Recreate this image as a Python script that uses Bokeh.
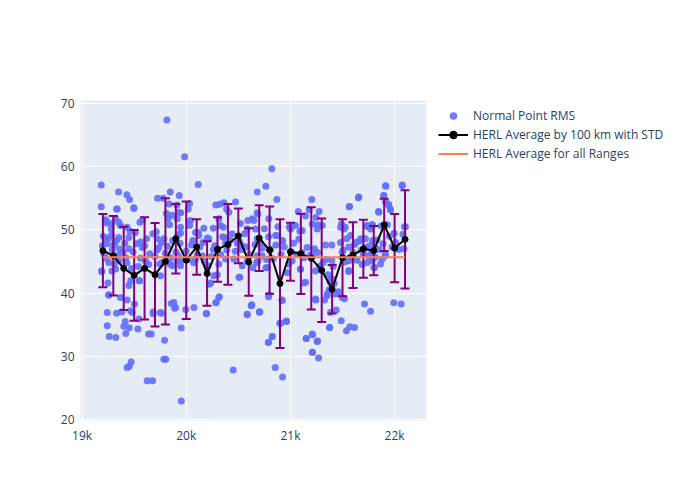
from bokeh.plotting import figure
from bokeh.models import Legend, LegendItem, FixedTicker, ColumnDataSource
from bokeh.embed import file_html
from bokeh.resources import INLINE

# ---- data ----
pts_x = [19814, 19984, 19184, 20115, 19184, 19350, 19430, 19456, 19497, 19725, 19779, 19846, 19933,
         19331, 19837, 19910, 19948, 20019, 20032, 20115, 20284, 20320, 20361, 20387, 20473, 20681,
         20591, 20649, 20681, 19223, 19235, 19286, 19353, 19369, 19433, 19555, 19581, 19712, 19785,
         19945, 20032, 20089, 20202, 20259, 20329, 20355, 20585,
         19190, 19248, 19255, 19242, 19331, 19382, 19242, 19261, 19324, 19415, 19401, 19453, 19420,
         19466, 19433, 19433, 19453, 19472, 19625, 19677, 19536, 19504, 19549, 19638, 19664, 19683,
         19683, 19760, 19753, 19792, 19785, 19804, 19856, 19888, 19952, 19952, 19996, 20073, 20195,
         20284, 20317, 20221, 20298, 20514, 20585, 20624, 20701, 20451, 19843, 19286,
         20630, 20706, 20790, 20764, 20675, 20918, 20898, 20963, 20790, 20825, 20854, 20924, 21097,
         21129, 21152, 21212, 21257, 21212, 21270, 21241, 21244, 21327, 21353, 21372, 21385, 21376,
         21397, 21488, 21519, 21538, 21570, 21615, 21558, 21711, 21769, 21807, 21992, 22063,
         20822, 20764, 20869, 20687, 21205, 21145, 21075, 21180, 21276, 21244, 21008, 20989, 21091,
         21262, 21564, 21653, 21845, 21916, 21896, 21942, 21961, 22073, 22095, 21526, 21481, 21737,
         21788, 21397, 20925, 20873,
         19232, 19322, 19338, 19497, 19225, 19257, 19283, 19315, 19353, 19360, 19449, 19449, 19561,
         19578, 19722, 19737, 19840, 19866, 19914, 19187, 19257, 19353, 19322, 19449, 19466, 19552,
         19609, 19769, 19866, 19914, 19257, 19369, 19482, 19753, 19545, 19881, 19897,
         19929, 19945, 20041, 20063, 20121, 20169, 20217, 20274, 20313, 20361, 20377, 20409, 20537,
         20633, 20665, 20681, 19923, 19945, 20089, 20154, 20233, 20265, 20313, 20377, 20457, 20505,
         20537, 20681, 20585, 20192, 20287, 20313, 20585, 20627,
         20793, 20857, 20921, 21001, 21049, 21113, 21209, 21257, 21305, 21337, 20729, 20777, 21017,
         21097, 21145, 21241, 21353, 21433, 20703, 20793, 20921, 20905, 20960, 20787, 20825, 21152,
         21209, 21260, 21209, 21376,
         21913, 22073, 21656, 21567, 21896, 21913, 21945, 21961, 21849, 21491, 21513, 21481, 21577,
         21737, 21785, 21769, 21996, 22104, 21625, 21673, 21721, 21753, 21785, 21817, 21737, 21561,
         21497, 21561, 21801, 21865, 21881, 21913, 21497,
         19195, 19210, 19230, 19205, 19240, 19290, 19305, 19330, 19345, 19280, 19310, 19395, 19410,
         19430, 19460, 19420, 19475, 19490, 19520, 19540, 19510, 19560, 19600, 19620, 19640, 19650,
         19680, 19700, 19720, 19745, 19760, 19800, 19820, 19850, 19870, 19810, 19825, 19900, 19940,
         19960, 19920, 20000, 20020, 20050, 20070, 20105, 20130, 20160, 20175, 20210, 20240, 20260,
         20300, 20330, 20350, 20390, 20400, 20420, 20440, 20470, 20490, 20510, 20530, 20560, 20580,
         20520, 20610, 20640, 20660, 20690, 20710, 20730, 20750, 20770, 20790, 20810, 20835, 20860,
         20880, 20910, 20940, 20970, 20985, 21010, 21030, 21060, 21080, 21110, 21130, 21160, 21190,
         21210, 21230, 21260, 21280, 21310, 21340, 21360, 21380, 21410, 21420, 21440, 21460, 21395,
         21505, 21520, 21540, 21560, 21580, 21600, 21615, 21640, 21660, 21680, 21690, 21700, 21720,
         21760, 21780, 21790, 21810, 21830, 21850, 21870, 21890, 21910, 21930, 21950, 21975, 22010,
         22040, 22080, 22090]
pts_y = [67.4, 61.6, 57.1, 57.2, 53.65, 56.0, 55.55, 54.8, 53.5, 55.0, 55.0, 56.0, 55.45,
         53.3, 54.1, 53.95, 52.7, 53.3, 54.2, 49.6, 53.95, 54.05, 54.3, 53.3, 54.4, 56.0,
         51.5, 51.5, 52.7, 51.6, 51.1, 51.0, 51.2, 50.7, 50.4, 51.2, 51.6, 49.7, 48.6,
         49.5, 50.7, 49.6, 48.7, 50.25, 50.7, 50.4, 50.2,
         43.4, 41.6, 39.7, 36.9, 36.8, 37.0, 34.8, 33.1, 32.95, 35.5, 34.75, 34.5, 33.6,
         37.2, 38.9, 28.2, 28.4, 29.05, 26.1, 26.1, 34.3, 38.25, 41.95, 33.5, 33.5, 37.0,
         36.7, 36.8, 42.75, 32.5, 29.5, 29.5, 38.35, 37.6, 34.45, 22.9, 37.4, 37.7, 36.7,
         38.45, 39.4, 41.4, 42.9, 42.5, 36.55, 38.0, 37.0, 27.8, 44.6, 43.5,
         38.1, 37.0, 39.4, 44.0, 44.8, 38.9, 35.2, 35.5, 32.2, 33.1, 28.2, 26.7, 43.75,
         41.6, 32.8, 33.4, 32.3, 30.6, 29.7, 43.5, 38.9, 38.9, 39.85, 40.5, 36.9, 34.55,
         45.2, 35.6, 39.1, 34.0, 34.65, 34.55, 43.4, 38.25, 37.1, 44.05, 38.45, 38.25,
         59.7, 56.9, 54.8, 52.5, 54.8, 52.2, 52.9, 53.2, 52.9, 51.95, 50.4, 50.45, 49.8,
         50.8, 53.65, 55.1, 52.9, 56.9, 55.45, 54.05, 53.2, 57.0, 50.5, 50.4, 50.4, 50.55,
         50.7, 47.6, 48.25, 49.1,
         51.5, 51.75, 53.3, 53.4, 48.6, 48.7, 49.2, 48.0, 48.8, 47.0, 47.0, 48.8, 48.1,
         47.2, 48.6, 47.2, 50.8, 52.3, 51.75, 43.5, 44.85, 45.1, 43.8, 41.2, 41.95, 41.95,
         45.1, 44.85, 44.3, 45.1, 39.7, 39.3, 36.9, 36.9, 35.9, 38.5, 37.7,
         52.8, 50.4, 51.5, 48.3, 49.1, 50.25, 48.6, 47.5, 51.75, 48.8, 47.8, 52.8, 47.5,
         51.75, 50.15, 48.6, 45.9, 44.3, 45.4, 45.9, 41.6, 42.75, 44.6, 45.4, 45.4, 42.5,
         44.3, 45.9, 45.1, 36.75, 38.5, 39.3, 36.65, 38.1,
         51.75, 49.1, 48.3, 50.15, 50.7, 49.9, 50.95, 50.15, 50.7, 47.6, 45.9, 44.05, 45.1,
         43.8, 41.7, 39.05, 39.6, 39.85, 37.0, 39.7, 38.8, 35.2, 35.55, 32.15, 33.1, 32.8,
         33.5, 32.4, 30.6, 34.55,
         57.0, 57.1, 55.2, 53.7, 55.45, 54.4, 53.85, 53.2, 52.8, 50.95, 50.15, 48.0, 49.1,
         50.7, 50.85, 50.15, 49.45, 50.5, 48.0, 48.6, 47.2, 45.9, 45.1, 45.65, 44.85, 45.1,
         46.45, 43.55, 44.05, 44.6, 45.4, 45.9, 39.3,
         47.5, 46.2, 45.5, 49.0, 47.8, 46.9, 47.6, 48.3, 46.0, 50.2, 44.6, 46.4, 47.9,
         44.8, 49.8, 45.6, 43.9, 46.5, 47.8, 44.2, 49.6, 45.5, 47.5, 48.6, 44.5, 46.2,
         49.4, 45.8, 46.8, 44.6, 48.0, 46.3, 47.4, 45.6, 48.3, 52.6, 51.8, 46.5, 47.9,
         45.2, 49.2, 46.6, 45.3, 47.6, 44.8, 46.0, 47.3, 48.0, 45.0, 44.3, 45.8, 46.9,
         47.0, 46.1, 48.9, 46.8, 47.6, 48.4, 49.4, 46.6, 47.9, 48.2, 46.9, 49.4, 47.3,
         51.0, 46.1, 44.0, 47.7, 45.1, 48.0, 47.1, 50.2, 45.3, 48.9, 46.9, 45.4, 47.6,
         50.5, 46.1, 47.3, 43.2, 44.6, 46.5, 47.9, 46.1, 48.5, 46.4, 45.6, 47.2, 46.0,
         45.9, 47.0, 46.4, 44.2, 44.7, 45.3, 42.9, 41.8, 44.2, 41.5, 37.3, 40.2, 42.3,
         46.8, 44.9, 48.6, 47.3, 45.7, 46.4, 47.7, 45.2, 48.2, 46.8, 44.5, 46.2, 48.6,
         47.5, 46.4, 48.3, 47.2, 48.4, 46.9, 50.6, 47.8, 46.2, 50.8, 49.0, 47.3, 48.0,
         46.9, 49.3, 47.0]

bin_x = [19200, 19300, 19400, 19500, 19600, 19700, 19800, 19900, 20000, 20100,
         20200, 20300, 20400, 20500, 20600, 20700, 20800, 20900, 21000, 21100,
         21200, 21300, 21400, 21500, 21600, 21700, 21800, 21900, 22000, 22100]
bin_mean = [46.7, 45.9, 43.9, 42.8, 43.9, 42.9, 45.0, 48.6, 45.2, 47.3,
            43.1, 46.9, 47.7, 49.05, 44.9, 48.7, 46.8, 41.5, 46.55, 46.2,
            45.5, 43.6, 40.6, 45.6, 46.0, 47.0, 46.7, 50.8, 47.1, 48.5]
bin_std = [5.8, 6.3, 6.6, 7.2, 8.1, 8.2, 10.0, 5.5, 9.3, 4.4,
           5.1, 5.1, 6.4, 4.35, 5.35, 5.2, 6.9, 10.2, 4.6, 6.35,
           8.1, 8.2, 3.85, 6.1, 5.2, 4.6, 3.9, 4.15, 5.4, 7.8]
overall_mean = 45.65

x_ticks = [19000, 20000, 21000, 22000]
x_tick_labels = ["19k", "20k", "21k", "22k"]
y_ticks = [20, 30, 40, 50, 60, 70]

# ---- figure ----
FONT = "Open Sans"
TXT = "#2a3f5f"

p = figure(frame_width=346, frame_height=320, x_range=(18985, 22306), y_range=(19.8, 70.5),
           output_backend="svg", toolbar_location=None,
           min_border_left=80, min_border_top=100, min_border_bottom=80, min_border_right=10,
           background_fill_color="#E5ECF6", border_fill_color="white", outline_line_color=None)

for ax in (p.xaxis[0], p.yaxis[0]):
    ax.axis_line_color = None
    ax.major_tick_line_color = None
    ax.minor_tick_line_color = None
    ax.major_tick_in = 0
    ax.major_tick_out = 0
    ax.major_label_text_font = FONT
    ax.major_label_text_font_size = "12px"
    ax.major_label_text_color = TXT
p.xaxis[0].ticker = FixedTicker(ticks=x_ticks)
p.xaxis[0].major_label_overrides = {t: l for t, l in zip(x_ticks, x_tick_labels)}
p.yaxis[0].ticker = FixedTicker(ticks=y_ticks)
p.xaxis[0].major_label_standoff = 6
p.yaxis[0].major_label_standoff = 6
p.grid.grid_line_color = "white"
p.grid.grid_line_width = 1

r_pts = p.scatter(pts_x, pts_y, size=7, marker="circle", fill_color="#636efa",
                  line_color=None, fill_alpha=0.9)

lower = [m - s for m, s in zip(bin_mean, bin_std)]
upper = [m + s for m, s in zip(bin_mean, bin_std)]
src = ColumnDataSource(dict(x=bin_x, m=bin_mean, lo=lower, hi=upper))
p.segment(x0="x", y0="lo", x1="x", y1="hi", source=src, line_color="purple", line_width=2)
p.scatter(x="x", y="hi", source=src, marker="dash", size=9, line_color="purple", line_width=2)
p.scatter(x="x", y="lo", source=src, marker="dash", size=9, line_color="purple", line_width=2)

r_line = p.line(x="x", y="m", source=src, line_color="black", line_width=2)
r_mark = p.scatter(x="x", y="m", source=src, marker="circle", size=6, fill_color="black", line_color="black")

r_avg = p.line([bin_x[0], bin_x[-1]], [overall_mean, overall_mean], line_color="#FF7F50", line_width=2)

legend = Legend(items=[
    LegendItem(label="Normal Point RMS", renderers=[r_pts]),
    LegendItem(label="HERL Average by 100 km with STD", renderers=[r_line, r_mark]),
    LegendItem(label="HERL Average for all Ranges", renderers=[r_avg]),
], location="top_left")
legend.label_text_font = FONT
legend.label_text_font_size = "12px"
legend.label_text_color = TXT
legend.glyph_width = 30
legend.glyph_height = 19
legend.label_height = 19
legend.spacing = 0
legend.label_standoff = 5
legend.padding = 0
legend.margin = 12
legend.border_line_color = None
legend.background_fill_alpha = 0
p.add_layout(legend, "right")
legend.location = (12, 257)

open("out.html", "w").write(file_html(p, INLINE))
